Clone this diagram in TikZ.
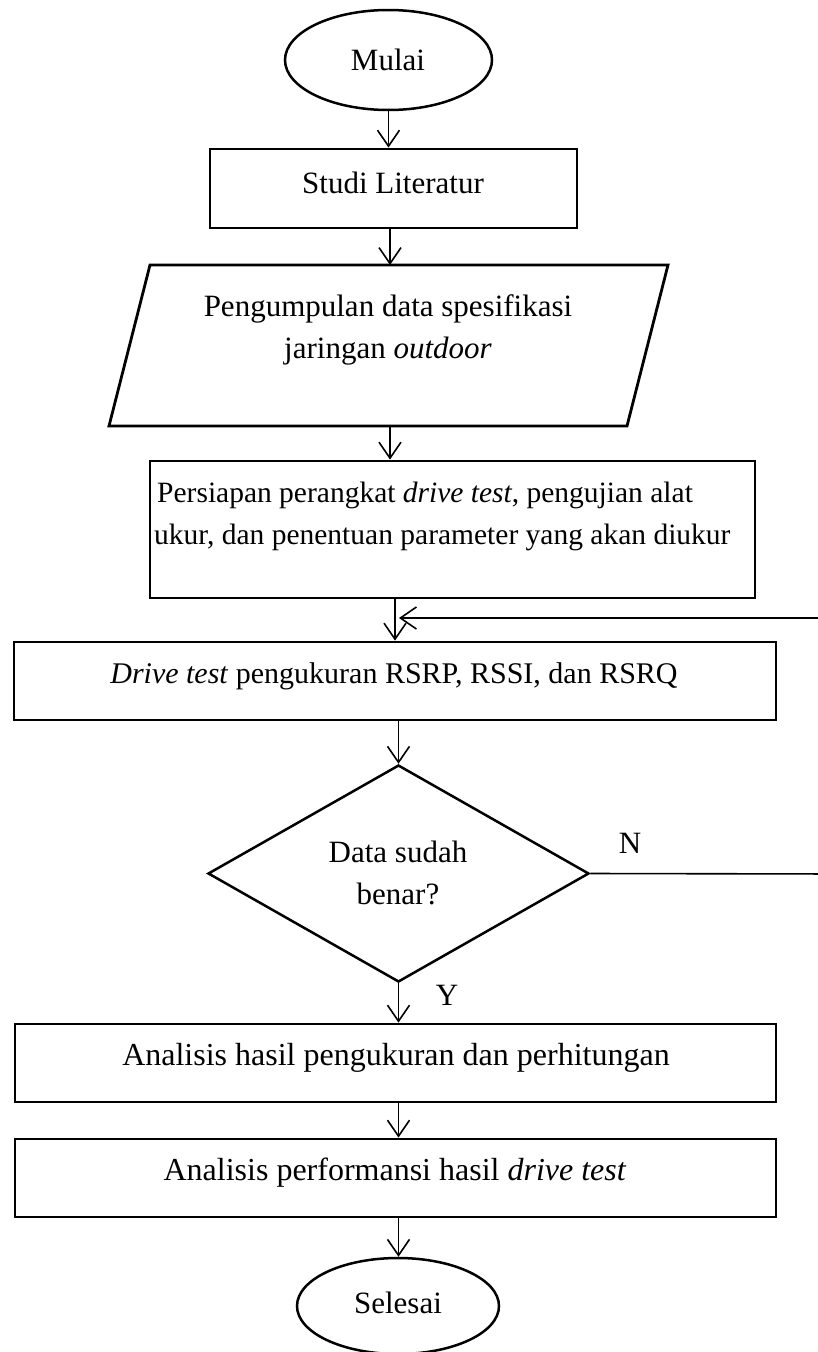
\documentclass[tikz,border=0pt]{standalone}
\usepackage{fontspec}
\setmainfont{Liberation Serif}
\usetikzlibrary{arrows.meta,shapes.geometric}
\begin{document}
\begin{tikzpicture}[x=1pt,y=-1pt,
  box/.style={draw,line width=2.8pt,rectangle,inner sep=0pt},
  term/.style={draw,line width=2.5pt,ellipse,inner sep=0pt},
  decis/.style={draw,line width=2.5pt,diamond,inner sep=0pt},
  txt/.style={font=\fontsize{31}{42}\selectfont,align=center,inner sep=0pt},
  arr/.style={line width=1.6pt,-{Straight Barb[length=16pt,width=22pt,line width=1.6pt]}},
  lnk/.style={line width=1.6pt}]
\useasboundingbox (0,0) rectangle (818,1352);

% shapes
\node[term,minimum width=207pt,minimum height=100pt] (mulai) at (388.5,60) {};
\node[box,minimum width=367pt,minimum height=79pt] (studi) at (393.5,188.5) {};
\coordinate (p1) at (150,265);
\coordinate (p2) at (668,265);
\coordinate (p3) at (627,426);
\coordinate (p4) at (109,426);
\draw[line width=2.8pt,line join=miter] (p1) -- (p2) -- (p3) -- (p4) -- cycle;
\node[box,minimum width=605pt,minimum height=137pt] (pers) at (452.5,529.5) {};
\node[box,minimum width=762pt,minimum height=78pt] (drive) at (395,681) {};
\node[decis,minimum width=381pt,minimum height=217pt] (dia) at (398.5,873.5) {};
\node[box,minimum width=761pt,minimum height=78pt] (an1) at (395.5,1063) {};
\node[box,minimum width=761pt,minimum height=78pt] (an2) at (395.5,1178) {};
\node[term,minimum width=202pt,minimum height=96pt] (sel) at (398,1306) {};

% texts
\node[txt] (mulaiT) at (388,60) {Mulai};
\node[txt] (studiT) at (393,183) {Studi Literatur};
\node[txt] (paraT) at (388,330) {Pengumpulan data spesifikasi\\jaringan \textit{outdoor}};
\node[txt,align=left,anchor=west,font=\fontsize{29.5}{42}\selectfont] (persT) at (154,516) {\hspace*{3pt}Persiapan perangkat \textit{drive test}, pengujian alat\\ukur, dan penentuan parameter yang akan diukur};
\node[txt,font=\fontsize{30}{42}\selectfont] (driveT) at (394,676) {\textit{Drive test} pengukuran RSRP, RSSI, dan RSRQ};
\node[txt] (diaT) at (398,873) {Data sudah\\benar?};
\node[txt,font=\fontsize{32}{42}\selectfont] (an1T) at (396,1058) {Analisis hasil pengukuran dan perhitungan};
\node[txt,font=\fontsize{32}{42}\selectfont] (an2T) at (395,1173) {Analisis performansi hasil \textit{drive test}};
\node[txt] (selT) at (398,1303) {Selesai};
\node[txt] (nlab) at (630,843) {N};
\node[txt] (ylab) at (447,995) {Y};

% connectors
\coordinate (paraTop) at (390,265);
\coordinate (paraBot) at (390,426);
\coordinate (axis) at (395,600);
\coordinate (ret) at (399,618);
\coordinate (loopR) at (845,874);
\draw[arr] (mulai.south) -- (mulai.south |- studi.north);
\draw[arr] (studi.south -| paraTop) -- (paraTop);
\draw[arr] (paraBot) -- (paraBot |- pers.north);
\draw[arr] (pers.south -| axis) -- (drive.north -| axis);
\draw[arr] (drive.south -| dia.north) -- (dia.north);
\draw[arr] (dia.east) -- (loopR) -- (loopR |- ret) -- (ret);
\draw[arr] (dia.south) -- (dia.south |- an1.north);
\draw[arr] (an1.south -| dia.south) -- (an2.north -| dia.south);
\draw[arr] (an2.south -| dia.south) -- (sel.north -| dia.south);
\end{tikzpicture}
\end{document}
